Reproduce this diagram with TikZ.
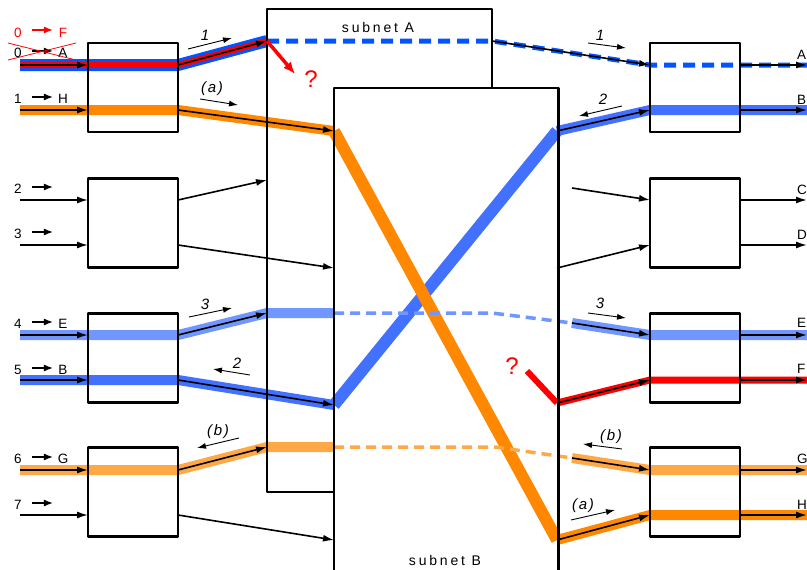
\documentclass[tikz,border=0pt]{standalone}
\usepackage{fontspec}
\setmainfont{Liberation Sans}
\newfontfamily\netfont[LetterSpace=20]{Liberation Sans}
\newfontfamily\dirfont[LetterSpace=12]{Liberation Sans}
\usetikzlibrary{arrows.meta}

\definecolor{deepblue}{RGB}{0,85,255}
\definecolor{midblue}{RGB}{66,112,255}
\definecolor{paleblue}{RGB}{112,150,255}
\definecolor{deeporange}{RGB}{255,136,0}
\definecolor{paleorange}{RGB}{255,168,70}
\definecolor{alarm}{RGB}{255,0,0}

\tikzset{
  box/.style={draw,line width=2.6pt,minimum width=90pt,minimum height=89pt,inner sep=0pt},
  sheet/.style={inner sep=0pt},
  band/.style={line width=10pt},
  wide/.style={line width=12pt},
  trunk/.style={line width=5pt,dash pattern=on 12pt off 7pt},
  thin dash/.style={line width=3.5pt,dash pattern=on 10pt off 6pt},
  wire/.style={-{Latex[length=11pt,width=7pt]},line width=1.6pt},
  tick/.style={-{Latex[length=9pt,width=7pt]},line width=1.3pt},
  hint/.style={-{Latex[length=9pt,width=6pt]},line width=0.9pt},
  tag/.style={font=\fontsize{13.5}{15}\selectfont,inner sep=0pt},
  dir/.style={font=\dirfont\fontsize{15}{17}\selectfont\itshape,inner sep=0pt},
  ask/.style={font=\fontsize{24}{26}\selectfont,text=alarm,inner sep=0pt},
}

\begin{document}
\begin{tikzpicture}[x=1pt,y=-1pt,line join=round]
\useasboundingbox (0,0) rectangle (807,570);

% rows: input, box edges, output
\foreach \k/\y in {0/65,1/110,2/200,3/245,4/335,5/380,6/470,7/515}{
  \coordinate (in\k) at (20,\y);
  \coordinate (lw\k) at (88,\y);
  \coordinate (le\k) at (178,\y);
  \coordinate (rw\k) at (650,\y);
  \coordinate (re\k) at (740,\y);
  \coordinate (out\k) at (807,\y);
}

% points on the subnet borders
\coordinate (aA) at (267,41);
\coordinate (aAx) at (492,41);
\coordinate (a2) at (267,180);
\coordinate (aE) at (267,313);
\coordinate (bE) at (334,313);
\coordinate (kE) at (492,313);
\coordinate (xE) at (572,323);
\coordinate (aG) at (267,447);
\coordinate (bG) at (334,447);
\coordinate (kG) at (495,447);
\coordinate (xG) at (572,458);
\coordinate (bH) at (334,131);
\coordinate (xH) at (557,540);
\coordinate (bB) at (334,405);
\coordinate (xB) at (557,131);
\coordinate (b3) at (334,268);
\coordinate (b7) at (334,540);
\coordinate (xC) at (572,188);
\coordinate (xD) at (557,268);
\coordinate (qF) at (527,371);
\coordinate (xF) at (557,403);
\coordinate (qA) at (295,74);

% paths into subnet A
\draw[wide,deepblue] (in0) -- (le0) -- (aA);
\draw[line width=6pt,alarm] (in0) -- (le0) -- (aA);
\draw[trunk,deepblue] (aA) -- (aAx) -- (rw0) -- (out0);
\draw[band,paleblue] (in4) -- (le4) -- (aE) -- (bE);
\draw[band,paleorange] (in6) -- (le6) -- (aG) -- (bG);
\draw[band,deeporange] (in1) -- (le1) -- (bH);
\draw[band,midblue] (in5) -- (le5) -- (bB);

\node[sheet,draw,line width=2.6pt,minimum width=225pt,minimum height=483pt] (subA) at (379.5,250.5) {};
\node[font=\netfont\fontsize{14}{16}\selectfont] (labA) at (378,27) {subnet A};

% subnet B
\node[sheet,fill=white,minimum width=224pt,minimum height=492pt] (subB) at (446,334) {};
\draw[wide,midblue] (bB) -- (xB);
\draw[wide,deeporange] (bH) -- (xH);
\draw[thin dash,paleblue] (bE) -- (kE) -- (xE);
\draw[thin dash,paleorange] (bG) -- (kG) -- (xG);
\draw[line width=6pt,alarm] (qF) -- (xF);

% paths out of subnet B
\draw[band,midblue] (xB) -- (rw1) -- (out1);
\draw[band,deeporange] (xH) -- (rw7) -- (out7);
\draw[band,paleblue] (xE) -- (rw4) -- (out4);
\draw[band,paleorange] (xG) -- (rw6) -- (out6);
\draw[line width=7pt,alarm] (xF) -- (rw5) -- (out5);

\draw[line width=2.6pt] (subB.north west) rectangle (subB.south east);
\node[font=\netfont\fontsize{14}{16}\selectfont] (labB) at (445,560) {subnet B};

% wires
\foreach \k in {0,...,7}{
  \draw[wire] (in\k) -- (lw\k);
  \draw[wire] (re\k) -- (out\k);
}
\draw[wire] (le0) -- (aA);
\draw[wire] (le1) -- (bH);
\draw[wire] (le2) -- (a2);
\draw[wire] (le3) -- (b3);
\draw[wire] (le4) -- (aE);
\draw[wire] (le5) -- (bB);
\draw[wire] (le6) -- (aG);
\draw[wire] (le7) -- (b7);
\draw[wire] (aAx) -- (rw0);
\draw[wire] (xB) -- (rw1);
\draw[wire] (xC) -- (rw2);
\draw[wire] (xD) -- (rw3);
\draw[wire] (xE) -- (rw4);
\draw[wire] (xF) -- (rw5);
\draw[wire] (xG) -- (rw6);
\draw[wire] (xH) -- (rw7);
\draw[-{Latex[length=12pt,width=10pt]},line width=3.5pt,alarm] (aA) -- (qA);

% boxes
\foreach \k/\y in {1/87.5,2/223,3/358,4/492}{
  \node[box] (L\k) at (133,\y) {};
  \node[box] (R\k) at (695,\y) {};
}

% input numbers and addresses
\foreach \k/\d/\y in {0/0/53,1/1/99,2/2/189,3/3/234,4/4/324,5/5/370,6/6/459,7/7/505}{
  \node[tag] (num\k) at (18,\y) {\d};
  \draw[tick] (num\k.east) ++(10,-2) -- ++(21,0);
}
\foreach \k/\l/\y in {0/A/53,1/H/99,4/E/324,5/B/370,6/G/459}
  \node[tag] (adr\k) at (63,\y) {\l};
\node[tag,alarm] (numF) at (18,33) {0};
\draw[tick,alarm] (numF.east) ++(10,-3) -- ++(21,0);
\node[tag,alarm] (adrF) at (63,33) {F};
\draw[alarm,line width=0.8pt] (8,43) -- (76,60) (8,60) -- (76,43);

% output addresses
\foreach \k/\l/\y in {0/A/55,1/B/100,2/C/190,3/D/235,4/E/323,5/F/369,6/G/459,7/H/505}
  \node[tag,anchor=west] (dst\k) at (797,\y) {\l};

% directions
\node[dir] (d1) at (205,35) {1};
\draw[hint] (d1) ++(-17,14) -- ++(44,-11);
\node[dir] (da) at (212,89) {(a)};
\draw[hint] (da) ++(-12,10) -- ++(38,6);
\node[dir] (d3) at (205,304) {3};
\draw[hint] (d3) ++(-16,13) -- ++(43,-9);
\node[dir] (d2) at (237,363) {2};
\draw[hint] (d2) ++(13,12) -- ++(-37,-6);
\node[dir] (db) at (218,432) {(b)};
\draw[hint] (db) ++(21,6) -- ++(-42,10);
\node[dir] (e1) at (600,35) {1};
\draw[hint] (e1) ++(-12,8) -- ++(38,5);
\node[dir] (e2) at (603,99) {2};
\draw[hint] (e2) ++(19,7) -- ++(-43,10);
\node[dir] (e3) at (600,303) {3};
\draw[hint] (e3) ++(-12,10) -- ++(38,5);
\node[dir] (eb) at (611,437) {(b)};
\draw[hint] (eb) ++(11,12) -- ++(-39,-5);
\node[dir] (ea) at (583,506) {(a)};
\draw[hint] (ea) ++(-12,14) -- ++(44,-10);

\node[ask] (qa) at (311,79) {?};
\node[ask] (qf) at (512,366) {?};
\end{tikzpicture}
\end{document}
